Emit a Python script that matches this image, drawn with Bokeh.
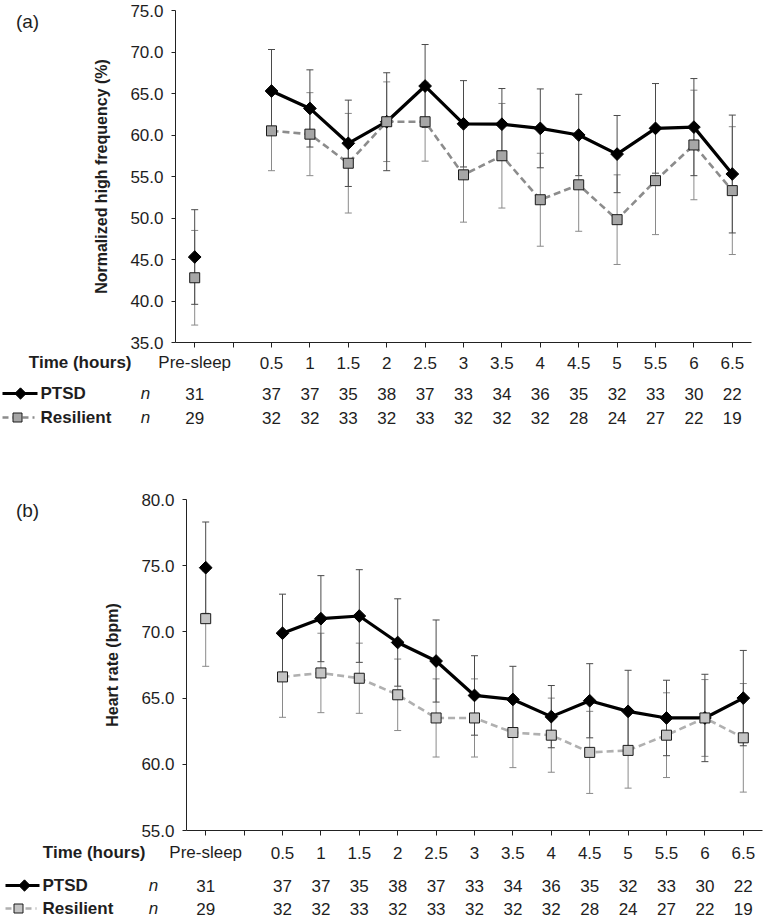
import math
from bokeh.plotting import figure
from bokeh.layouts import column, row
from bokeh.models import Range1d, FixedTicker, PrintfTickFormatter, Label
from bokeh.core.properties import value
from bokeh.embed import file_html
from bokeh.resources import INLINE

# ---------------- data ----------------
time_labels = ["Pre-sleep", "0.5", "1", "1.5", "2", "2.5", "3", "3.5", "4",
               "4.5", "5", "5.5", "6", "6.5"]
n_ptsd = [31, 37, 37, 35, 38, 37, 33, 34, 36, 35, 32, 33, 30, 22]
n_resilient = [29, 32, 32, 33, 32, 33, 32, 32, 32, 28, 24, 27, 22, 19]

hf_ptsd = [45.3, 65.3, 63.2, 59.0, 61.6, 65.9, 61.35, 61.3, 60.8, 60.0, 57.7, 60.8, 60.95, 55.3]
hf_ptsd_err = [5.7, 5.0, 4.65, 5.2, 5.9, 5.0, 5.2, 4.3, 4.75, 4.9, 4.65, 5.4, 5.85, 7.1]
hf_res = [42.8, 60.5, 60.1, 56.6, 61.6, 61.6, 55.2, 57.5, 52.2, 54.0, 49.8, 54.5, 58.8, 53.3]
hf_res_err = [5.7, 4.8, 5.0, 6.0, 4.8, 4.75, 5.7, 6.3, 5.6, 5.6, 5.4, 6.5, 6.6, 7.7]

hr_ptsd = [74.85, 69.9, 71.0, 71.2, 69.2, 67.8, 65.2, 64.9, 63.6, 64.8, 64.0, 63.5, 63.5, 65.0]
hr_ptsd_err = [3.45, 2.95, 3.25, 3.5, 3.3, 3.1, 3.0, 2.5, 2.35, 2.8, 3.1, 2.85, 3.3, 3.6]
hr_res = [71.0, 66.6, 66.9, 66.5, 65.25, 63.5, 63.5, 62.4, 62.2, 60.9, 61.05, 62.2, 63.5, 62.0]
hr_res_err = [3.6, 3.05, 3.0, 2.65, 2.7, 2.95, 2.95, 2.65, 2.8, 3.1, 2.85, 3.2, 2.9, 4.1]

hf_ticks = [35, 40, 45, 50, 55, 60, 65, 70, 75]
hr_ticks = [55, 60, 65, 70, 75, 80]

# ---------------- layout constants ----------------
FONT = "Liberation Sans"
TXT = "#1e1e1e"
SLOT = 38.4          # px per category slot
NSLOT = 15
TOTAL_W = 763
LEFT_W = 60
# category positions: pre-sleep, an empty slot, then the hours
xpos = [0] + [i + 2 for i in range(len(time_labels) - 1)]


def make_panel(tag, ylabel, ticks, ptsd, ptsd_err, res, res_err, axis_px,
               frame_top, frame_h, chart_h, table_h, rows_y, res_line,
               res_fill, time_right_px, n_px, leg_start_px, leg_end_px,
               leg_ptsd_mk_px, leg_res_end_px, leg_res_mk_px, leg_text_px):
    chart_w = TOTAL_W - LEFT_W
    b_left = int(axis_px - LEFT_W)
    b_right = int(round(chart_w - b_left - SLOT * NSLOT))
    ymin, ymax = ticks[0], ticks[-1]
    p = figure(width=chart_w, height=chart_h,
               x_range=Range1d(-0.5, NSLOT - 0.5),
               y_range=Range1d(ymin, ymax),
               output_backend="svg", toolbar_location=None,
               min_border_left=b_left, min_border_right=b_right,
               min_border_top=frame_top,
               min_border_bottom=chart_h - frame_top - frame_h)
    p.outline_line_color = None
    p.grid.visible = False

    # x axis: line and ticks (a tick at every slot); labels are in the table
    p.xaxis.ticker = FixedTicker(ticks=xpos, minor_ticks=[1])
    p.xaxis.major_label_text_color = None
    p.xaxis.major_label_standoff = 0
    p.xaxis.major_tick_out = 5
    p.xaxis.major_tick_in = 0
    p.xaxis.minor_tick_out = 5
    p.xaxis.minor_tick_in = 0
    p.xaxis.axis_line_color = "#222222"
    p.xaxis.major_tick_line_color = "#222222"
    p.xaxis.minor_tick_line_color = "#222222"

    p.yaxis.ticker = FixedTicker(ticks=ticks)
    p.yaxis.formatter = PrintfTickFormatter(format="%.1f")
    p.yaxis.major_label_text_font = FONT
    p.yaxis.major_label_text_font_size = "17px"
    p.yaxis.major_label_text_color = TXT
    p.yaxis.major_label_standoff = 8
    p.yaxis.major_tick_out = 4
    p.yaxis.major_tick_in = 0
    p.yaxis.minor_tick_out = 0
    p.yaxis.minor_tick_in = 0
    p.yaxis.axis_line_color = "#222222"
    p.yaxis.major_tick_line_color = "#222222"
    p.yaxis.axis_label = ylabel
    p.yaxis.axis_label_text_font = FONT
    p.yaxis.axis_label_text_font_size = "16px"
    p.yaxis.axis_label_text_font_style = "bold"
    p.yaxis.axis_label_text_color = TXT
    p.yaxis.axis_label_standoff = 17

    # error bars
    for m, e, col in ((res, res_err, "#8a8a8a"), (ptsd, ptsd_err, "#4a4a4a")):
        lo = [a - b for a, b in zip(m, e)]
        hi = [a + b for a, b in zip(m, e)]
        p.segment(x0=xpos, y0=lo, x1=xpos, y1=hi, line_color=col, line_width=1)
        p.scatter(x=xpos + xpos, y=lo + hi, marker="dash", size=7,
                  line_color=col, line_width=1)

    # PTSD
    p.line(x=xpos[1:], y=ptsd[1:], line_color="black", line_width=3.2,
           line_join="round")
    p.scatter(x=xpos, y=ptsd, marker="square", angle=math.pi / 4, size=9,
              fill_color="black", line_color="black")
    # Resilient
    p.line(x=xpos[1:], y=res[1:], line_color=res_line, line_width=2.6,
           line_dash="7 4")
    p.scatter(x=xpos, y=res, marker="square", size=10, fill_color=res_fill,
              line_color="#1a1a1a", line_width=1)

    # left strip holding the panel tag (its frame lines up with the chart frame)
    lf = figure(width=LEFT_W, height=chart_h, x_range=Range1d(0, LEFT_W),
                y_range=Range1d(frame_h, 0), output_backend="svg",
                toolbar_location=None, min_border=0, x_axis_type=None,
                y_axis_type=None)
    lf.outline_line_color = None
    lf.grid.visible = False
    lf.add_layout(Label(x=27, y=0, text=tag, text_align="center",
                        text_baseline="top", text_font=FONT,
                        text_font_size="19px", text_color=TXT))

    # table below: time labels and n per group
    x0 = -0.5 - axis_px / SLOT

    def px2x(px):
        return x0 + px / SLOT

    t = figure(width=TOTAL_W, height=table_h,
               x_range=Range1d(x0, x0 + TOTAL_W / SLOT),
               y_range=Range1d(table_h, 0), output_backend="svg",
               toolbar_location=None, min_border=0, x_axis_type=None,
               y_axis_type=None)
    t.outline_line_color = None
    t.grid.visible = False

    common = dict(text_baseline="middle", text_font=value(FONT),
                  text_font_size="17px", text_color=TXT)
    r0, r1, r2 = rows_y
    t.text(x=xpos, y=[r0] * len(xpos), text=time_labels, text_align="center",
           **common)
    t.text(x=[px2x(time_right_px)], y=[r0], text=["Time (hours)"],
           text_align="right", text_font_style="bold", **common)
    t.text(x=xpos, y=[r1] * len(xpos), text=[str(v) for v in n_ptsd],
           text_align="center", **common)
    t.text(x=xpos, y=[r2] * len(xpos), text=[str(v) for v in n_resilient],
           text_align="center", **common)
    t.text(x=[px2x(n_px), px2x(n_px)], y=[r1, r2], text=["n", "n"],
           text_align="center", text_font_style="italic", **common)
    t.text(x=[px2x(leg_text_px), px2x(leg_text_px)], y=[r1, r2],
           text=["PTSD", "Resilient"], text_align="left",
           text_font_style="bold", **common)
    # legend samples
    t.line(x=[px2x(leg_start_px), px2x(leg_end_px)], y=[r1, r1],
           line_color="black", line_width=3.2)
    t.scatter(x=[px2x(leg_ptsd_mk_px)], y=[r1], marker="square",
              angle=math.pi / 4, size=8, fill_color="black", line_color="black")
    t.line(x=[px2x(leg_start_px), px2x(leg_res_end_px)], y=[r2, r2],
           line_color=res_line, line_width=2.6, line_dash="6 4")
    t.scatter(x=[px2x(leg_res_mk_px)], y=[r2], marker="square", size=9,
              fill_color=res_fill, line_color="#1a1a1a", line_width=1)

    return column(row(lf, p), t)


panel_a = make_panel("(a)", "Normalized high frequency (%)", hf_ticks,
                     hf_ptsd, hf_ptsd_err, hf_res, hf_res_err,
                     axis_px=175, frame_top=10, frame_h=332, chart_h=352,
                     table_h=88, rows_y=(10, 41, 65),
                     res_line="#8c8c8c", res_fill="#a6a6a6",
                     time_right_px=131, n_px=145, leg_start_px=2,
                     leg_end_px=37, leg_ptsd_mk_px=20, leg_res_end_px=34,
                     leg_res_mk_px=17, leg_text_px=40)

panel_b = make_panel("(b)", "Heart rate (bpm)", hr_ticks,
                     hr_ptsd, hr_ptsd_err, hr_res, hr_res_err,
                     axis_px=186, frame_top=59, frame_h=331, chart_h=400,
                     table_h=79, rows_y=(12, 45, 68),
                     res_line="#b0b0b0", res_fill="#c4c4c4",
                     time_right_px=145, n_px=153, leg_start_px=5,
                     leg_end_px=39, leg_ptsd_mk_px=24, leg_res_end_px=36,
                     leg_res_mk_px=18, leg_text_px=42)

layout = column(panel_a, panel_b)

open("out.html", "w").write(file_html(layout, INLINE))
